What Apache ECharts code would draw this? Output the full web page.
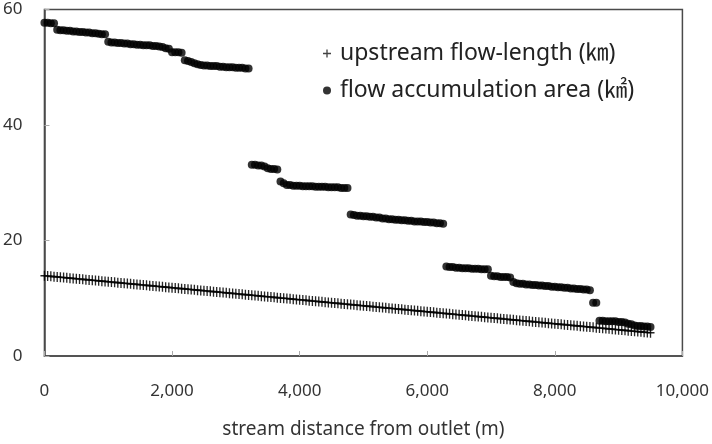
<!DOCTYPE html>
<html>
<head>
<meta charset="utf-8">
<script src="https://cdn.jsdelivr.net/npm/echarts@6/dist/echarts.min.js"></script>
<style>html,body{margin:0;padding:0;background:#fff}#c{width:712px;height:444px}</style>
</head>
<body>
<div id="c"></div>
<script>
// stream distance from outlet (m)
var distance = [
0,50,100,150,200,250,300,350,400,450,500,550,600,650,700,750,800,850,900,950,
1000,1050,1100,1150,1200,1250,1300,1350,1400,1450,1500,1550,1600,1650,1700,1750,1800,1850,1900,1950,
2000,2050,2100,2150,2200,2250,2300,2350,2400,2450,2500,2550,2600,2650,2700,2750,2800,2850,2900,2950,
3000,3050,3100,3150,3200,3250,3300,3350,3400,3450,3500,3550,3600,3650,3700,3750,3800,3850,3900,3950,
4000,4050,4100,4150,4200,4250,4300,4350,4400,4450,4500,4550,4600,4650,4700,4750,4800,4850,4900,4950,
5000,5050,5100,5150,5200,5250,5300,5350,5400,5450,5500,5550,5600,5650,5700,5750,5800,5850,5900,5950,
6000,6050,6100,6150,6200,6250,6300,6350,6400,6450,6500,6550,6600,6650,6700,6750,6800,6850,6900,6950,
7000,7050,7100,7150,7200,7250,7300,7350,7400,7450,7500,7550,7600,7650,7700,7750,7800,7850,7900,7950,
8000,8050,8100,8150,8200,8250,8300,8350,8400,8450,8500,8550,8600,8650,8700,8750,8800,8850,8900,8950,
9000,9050,9100,9150,9200,9250,9300,9350,9400,9450,9500
];
// upstream flow-length (km)
var flowLength = [
13.90,13.85,13.80,13.74,13.69,13.64,13.59,13.54,13.48,13.43,
13.38,13.33,13.28,13.22,13.17,13.12,13.07,13.02,12.96,12.91,
12.86,12.81,12.76,12.70,12.65,12.60,12.55,12.50,12.44,12.39,
12.34,12.29,12.24,12.18,12.13,12.08,12.03,11.98,11.92,11.87,
11.82,11.77,11.72,11.66,11.61,11.56,11.51,11.46,11.40,11.35,
11.30,11.25,11.20,11.14,11.09,11.04,10.99,10.94,10.88,10.83,
10.78,10.73,10.68,10.62,10.57,10.52,10.47,10.42,10.36,10.31,
10.26,10.21,10.16,10.10,10.05,10.00,9.95,9.90,9.84,9.79,
9.74,9.69,9.64,9.58,9.53,9.48,9.43,9.38,9.32,9.27,
9.22,9.17,9.12,9.06,9.01,8.96,8.91,8.86,8.80,8.75,
8.70,8.65,8.60,8.54,8.49,8.44,8.39,8.34,8.28,8.23,
8.18,8.13,8.08,8.02,7.97,7.92,7.87,7.82,7.76,7.71,
7.66,7.61,7.56,7.50,7.45,7.40,7.35,7.30,7.24,7.19,
7.14,7.09,7.04,6.98,6.93,6.88,6.83,6.78,6.72,6.67,
6.62,6.57,6.52,6.46,6.41,6.36,6.31,6.26,6.20,6.15,
6.10,6.05,6.00,5.94,5.89,5.84,5.79,5.74,5.68,5.63,
5.58,5.53,5.48,5.42,5.37,5.32,5.27,5.22,5.16,5.11,
5.06,5.01,4.96,4.90,4.85,4.80,4.75,4.70,4.64,4.59,
4.54,4.49,4.44,4.38,4.33,4.28,4.23,4.18,4.12,4.07,
4.02
];
// flow accumulation area (km2)
var flowArea = [
57.7,57.7,57.6,57.6,56.5,56.4,56.4,56.3,56.3,56.2,
56.2,56.1,56.1,56.0,56.0,55.9,55.9,55.8,55.7,55.7,
54.4,54.3,54.3,54.2,54.2,54.1,54.1,54.0,54.0,53.9,
53.9,53.8,53.8,53.8,53.7,53.7,53.6,53.5,53.3,53.2,
52.6,52.6,52.6,52.5,51.2,51.1,50.9,50.7,50.5,50.4,
50.3,50.3,50.2,50.2,50.2,50.1,50.1,50.0,50.0,50.0,
49.9,49.9,49.9,49.8,49.8,33.1,33.1,33.0,33.0,32.8,
32.5,32.4,32.4,32.3,30.2,29.9,29.6,29.6,29.5,29.5,
29.5,29.4,29.4,29.4,29.4,29.3,29.3,29.3,29.3,29.2,
29.2,29.2,29.2,29.1,29.1,29.1,24.5,24.4,24.3,24.3,
24.2,24.2,24.1,24.1,24.0,24.0,23.8,23.8,23.7,23.7,
23.6,23.6,23.5,23.5,23.4,23.4,23.3,23.3,23.3,23.2,
23.2,23.1,23.1,23.0,23.0,22.9,15.5,15.4,15.4,15.3,
15.3,15.2,15.2,15.2,15.1,15.1,15.1,15.0,15.0,15.0,
13.9,13.8,13.8,13.7,13.7,13.7,13.6,12.8,12.6,12.5,
12.5,12.4,12.4,12.3,12.3,12.2,12.2,12.1,12.1,12.0,
12.0,11.9,11.9,11.8,11.8,11.7,11.7,11.6,11.6,11.5,
11.5,11.4,9.2,9.2,6.1,6.1,6.0,6.0,6.0,6.0,
5.9,5.9,5.8,5.6,5.5,5.3,5.2,5.2,5.1,5.1,
5.0
];
var xTicks = [0, 2000, 4000, 6000, 8000, 10000];
var yTicks = [0, 20, 40, 60];
var seriesNames = ['upstream flow-length (\u339E)', 'flow accumulation area (\u33A2)'];

function pairs(xs, ys) { return xs.map(function (x, i) { return [x, ys[i]]; }); }

var FONT = '"Noto Sans","Noto Sans CJK KR",sans-serif';
var plusPath = 'path://M3,0H4.2V3H7.2V4.2H4.2V7.2H3V4.2H0V3H3Z';

var chart = echarts.init(document.getElementById('c'), null, {renderer: 'canvas'});
chart.setOption({
  animation: false,
  backgroundColor: '#fff',
  grid: {left: 44, right: 20, top: 9.5, bottom: 88, show: true, borderColor: '#4a4a4a', borderWidth: 1.5, backgroundColor: 'transparent'},
  legend: {
    orient: 'vertical', left: 318, top: 37, itemGap: 14, itemWidth: 8, itemHeight: 8,
    textStyle: {fontFamily: FONT, fontSize: 23, color: '#222', padding: [0, 0, 0, 4]},
    data: [
      {name: seriesNames[0], icon: plusPath, itemStyle: {color: '#222'}},
      {name: seriesNames[1], icon: 'circle', itemStyle: {color: '#000'}}
    ]
  },
  xAxis: {
    type: 'value', min: 0, max: 10000, interval: 2000,
    name: 'stream distance from outlet (m)', nameLocation: 'middle', nameGap: 64,
    nameTextStyle: {fontFamily: FONT, fontSize: 19, color: '#333'},
    axisLine: {show: true, onZero: false, lineStyle: {color: '#4a4a4a', width: 1.5}},
    axisTick: {show: true, inside: true, length: 5, lineStyle: {color: '#aaa'}},
    axisLabel: {margin: 27, fontFamily: FONT, fontSize: 17, color: '#333',
      formatter: function (v) { return xTicks.indexOf(v) >= 0 ? v.toLocaleString('en-US') : ''; }},
    splitLine: {show: false}
  },
  yAxis: {
    type: 'value', min: 0, max: 60, interval: 20,
    axisLine: {show: true, onZero: false, lineStyle: {color: '#4a4a4a', width: 1.5}},
    axisTick: {show: true, inside: true, length: 5, lineStyle: {color: '#aaa'}},
    axisLabel: {margin: 22, fontFamily: FONT, fontSize: 17, color: '#333',
      formatter: function (v) { return yTicks.indexOf(v) >= 0 ? String(v) : ''; }},
    splitLine: {show: false}
  },
  series: [
    {name: seriesNames[0], type: 'scatter', symbol: plusPath, symbolSize: [8, 10],
      itemStyle: {color: '#000', opacity: 0.85}, data: pairs(distance, flowLength)},
    {name: seriesNames[1], type: 'scatter', symbol: 'circle', symbolSize: 8,
      itemStyle: {color: '#000'}, data: pairs(distance, flowArea)}
  ]
});
</script>
</body>
</html>
